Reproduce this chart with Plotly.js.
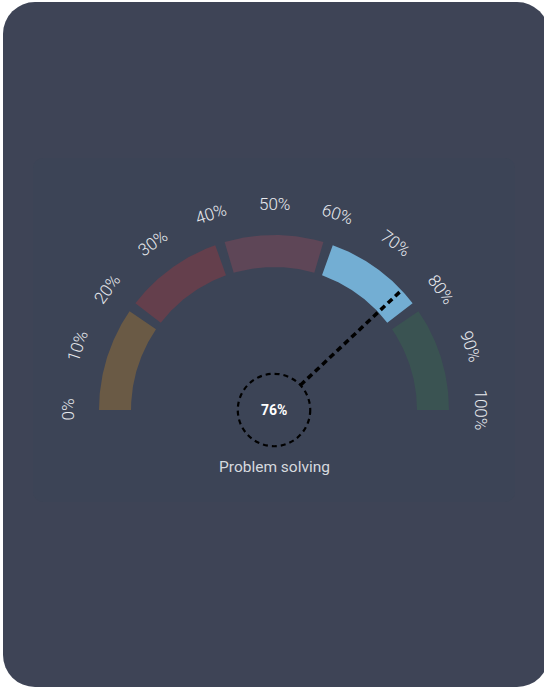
<!DOCTYPE html>
<html>
<head>
<meta charset="utf-8">
<script src="https://cdn.plot.ly/plotly-3.0.1.min.js"></script>
<style>
  html, body { margin: 0; padding: 0; background: #ffffff; width: 544px; height: 689px; overflow: hidden; }
  #card { position: absolute; left: 3px; top: 2px; width: 546px; height: 685px; border-radius: 32px; background: #3e4456; }
  #panel { position: absolute; left: 33px; top: 158px; width: 482px; height: 344px; border-radius: 10px; background: #3c4456; }
  #chart { position: absolute; left: 0; top: 0; width: 544px; height: 689px; }
</style>
</head>
<body>
<div id="card"></div>
<div id="panel"></div>
<div id="chart"></div>
<script>
// ---- data ----
const segStarts = [0, 20, 40, 60, 80];
const segEnds   = [20, 40, 60, 80, 100];
const segColors = ['#6a5a45', '#643f4c', '#5e4657', '#73aed3', '#3a5352'];
const tickValues = [0, 10, 20, 30, 40, 50, 60, 70, 80, 90, 100];
const tickLabels = ['0%', '10%', '20%', '30%', '40%', '50%', '60%', '70%', '80%', '90%', '100%'];
const gaugeValue = 76;
const valueLabel = '76%';
const gaugeTitle = 'Problem solving';

// ---- geometry (gauge units, outer radius = 1) ----
const R_OUT = 1.0, R_IN = 0.817, R_LABEL = 1.18, R_HUB = 0.207, R_NEEDLE = 0.985;
const GAP_PCT = 0.9;   // half-gap between segments, in percent units
const ang = p => Math.PI * (1 - p / 100);

const traces = [];
segStarts.forEach((s, i) => {
  const e = segEnds[i];
  const a0 = s === 0 ? 0 : s + GAP_PCT;
  const a1 = e === 100 ? 100 : e - GAP_PCT;
  const xs = [], ys = [];
  const N = 60;
  for (let k = 0; k <= N; k++) {
    const p = a0 + (a1 - a0) * k / N;
    xs.push(R_OUT * Math.cos(ang(p))); ys.push(R_OUT * Math.sin(ang(p)));
  }
  for (let k = N; k >= 0; k--) {
    const p = a0 + (a1 - a0) * k / N;
    xs.push(R_IN * Math.cos(ang(p))); ys.push(R_IN * Math.sin(ang(p)));
  }
  traces.push({
    type: 'scatter', mode: 'lines', x: xs, y: ys, fill: 'toself',
    fillcolor: segColors[i], line: { width: 0, color: segColors[i] },
    hoverinfo: 'skip', showlegend: false
  });
});

// needle
const na = ang(gaugeValue);
traces.push({
  type: 'scatter', mode: 'lines',
  x: [R_HUB * Math.cos(na), R_NEEDLE * Math.cos(na)],
  y: [R_HUB * Math.sin(na), R_NEEDLE * Math.sin(na)],
  line: { color: '#000000', width: 3.5, dash: '6px,4px' },
  hoverinfo: 'skip', showlegend: false
});

const annotations = tickValues.map((v, i) => ({
  x: R_LABEL * Math.cos(ang(v)), y: R_LABEL * Math.sin(ang(v)),
  xref: 'x', yref: 'y', text: tickLabels[i], showarrow: false,
  textangle: -90 + v * 1.8,
  font: { family: 'Roboto, sans-serif', size: 17, weight: 300, color: '#e8eaee' },
  xanchor: 'center', yanchor: 'middle'
}));
annotations.push({
  x: 0, y: 0, xref: 'x', yref: 'y', text: '<b>' + valueLabel + '</b>', showarrow: false,
  font: { family: 'Roboto, sans-serif', size: 14, color: '#ffffff' }, xanchor: 'center', yanchor: 'middle'
});
annotations.push({
  x: 0, y: -0.325, xref: 'x', yref: 'y', text: gaugeTitle, showarrow: false,
  font: { family: 'Roboto, sans-serif', size: 15.5, color: '#d6d9df' }, xanchor: 'center', yanchor: 'middle'
});

const PX = 175, CX = 274, CY = 410, W = 544, H = 689;
const layout = {
  width: W, height: H,
  margin: { l: 0, r: 0, t: 0, b: 0, pad: 0 },
  paper_bgcolor: 'rgba(0,0,0,0)', plot_bgcolor: 'rgba(0,0,0,0)',
  showlegend: false,
  xaxis: { range: [-CX / PX, (W - CX) / PX], visible: false, fixedrange: true },
  yaxis: { range: [-(H - CY) / PX, CY / PX], visible: false, fixedrange: true },
  shapes: [{
    type: 'circle', xref: 'x', yref: 'y',
    x0: -R_HUB, x1: R_HUB, y0: -R_HUB, y1: R_HUB,
    line: { color: '#000000', width: 2.2, dash: '5px,4px' }
  }],
  annotations: annotations
};

Plotly.newPlot('chart', traces, layout, { displayModeBar: false, staticPlot: true });
</script>
</body>
</html>
